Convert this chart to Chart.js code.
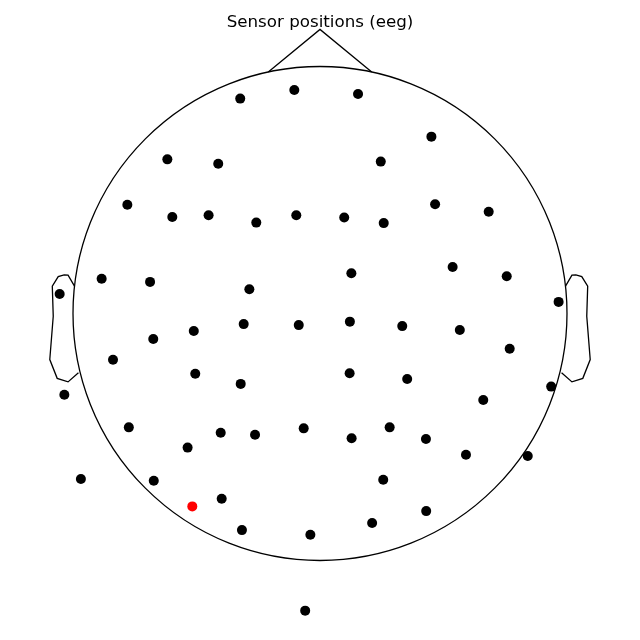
<!DOCTYPE html>
<html>
<head>
<meta charset="utf-8">
<script src="https://cdn.jsdelivr.net/npm/chart.js@4.4.0/dist/chart.umd.min.js"></script>
<style>
  body { margin: 0; background: #fff; }
  #wrap { width: 640px; height: 640px; }
</style>
</head>
<body>
<div id="wrap"><canvas id="myChart" width="640" height="640"></canvas></div>
<script>
// sensor positions, in head radii (head centre = 0,0)
const sensorX = [-0.323, -0.104, 0.154, 0.451, -0.618, -0.412, 0.246, -0.780, -0.598, -0.451,
    -0.258, -0.096, 0.098, 0.258, 0.466, 0.683, -0.884, -0.688, -1.054, -0.286,
    0.127, 0.537, 0.756, 0.966, -0.309, -0.086, -0.675, -0.511, -0.838, -0.505,
    -0.321, -1.035, -0.774, -0.402, -0.263, -0.066, -0.536, -0.968, -0.673, -0.517,
    -0.398, -0.316, -0.039, -0.060, 0.121, 0.333, 0.566, 0.768, 0.120, 0.353,
    0.936, 0.661, 0.282, 0.128, 0.429, 0.591, 0.841, 0.256, 0.430, 0.211];
const sensorY = [0.870, 0.905, 0.889, 0.716, 0.624, 0.606, 0.615, 0.440, 0.391, 0.398,
    0.368, 0.398, 0.389, 0.366, 0.442, 0.412, 0.141, 0.128, 0.079, 0.098,
    0.163, 0.188, 0.151, 0.047, -0.043, -0.047, -0.103, -0.071, -0.187, -0.244,
    -0.285, -0.329, -0.461, -0.483, -0.491, -0.465, -0.543, -0.670, -0.677, -0.781,
    -0.750, -0.877, -0.896, -1.203, -0.033, -0.051, -0.067, -0.143, -0.242, -0.265,
    -0.296, -0.350, -0.461, -0.505, -0.508, -0.572, -0.577, -0.673, -0.800, -0.848];
const badSensors = [39];

// head outline shapes (head radius = 1)
const noseX = [-0.2094, 0, 0.2094];
const noseY = [0.978, 1.15, 0.978];
const earX = [0.994, 1.020, 1.036, 1.0598, 1.0838, 1.080, 1.094, 1.064, 1.020, 0.978];
const earY = [0.111, 0.155, 0.1566, 0.1492, 0.111, -0.011, -0.1864, -0.2626, -0.2768, -0.2398];
const headRadius = 1;
const titleText = 'Sensor positions (eeg)';

const pts = (xs, ys) => xs.map((x, i) => ({x: x, y: ys[i]}));

const headCircle = {
    id: 'headCircle',
    beforeDatasetsDraw(chart) {
        const sx = chart.scales.x, sy = chart.scales.y;
        const c = chart.ctx;
        const cx = sx.getPixelForValue(0), cy = sy.getPixelForValue(0);
        const r = sx.getPixelForValue(headRadius) - cx;
        c.save();
        c.beginPath();
        c.arc(cx, cy, r, 0, Math.PI * 2);
        c.strokeStyle = '#000';
        c.lineWidth = 1.3;
        c.stroke();
        c.restore();
    },
    afterDraw(chart) {
        const c = chart.ctx;
        c.save();
        c.font = '16.7px "DejaVu Sans"';
        c.fillStyle = '#000';
        c.textAlign = 'center';
        c.textBaseline = 'alphabetic';
        c.fillText(titleText, 320, 27);
        c.restore();
    }
};

const lineStyle = {
    showLine: true,
    borderColor: '#000',
    borderWidth: 1.3,
    pointRadius: 0,
    fill: false,
    tension: 0,
    clip: false
};

const ctx = document.getElementById('myChart');
new Chart(ctx, {
    type: 'scatter',
    data: {
        datasets: [{
            label: 'sensors',
            data: pts(sensorX, sensorY),
            pointRadius: 5,
            pointBackgroundColor: sensorX.map((_, i) => badSensors.includes(i) ? '#ff0000' : '#000000'),
            pointBorderWidth: 0,
            pointBorderColor: 'rgba(0,0,0,0)',
            clip: false
        }, {
            ...lineStyle, label: 'nose', data: pts(noseX, noseY)
        }, {
            ...lineStyle, label: 'right ear', data: pts(earX, earY)
        }, {
            ...lineStyle, label: 'left ear', data: pts(earX.map(v => -v), earY)
        }]
    },
    options: {
        responsive: false,
        animation: false,
        layout: { padding: 0, autoPadding: false },
        scales: {
            x: { display: false, min: -320 / 247, max: 320 / 247 },
            y: { display: false, min: (313.5 - 640) / 247, max: 313.5 / 247 }
        },
        plugins: {
            legend: { display: false },
            tooltip: { enabled: false }
        }
    },
    plugins: [headCircle]
});
</script>
</body>
</html>
